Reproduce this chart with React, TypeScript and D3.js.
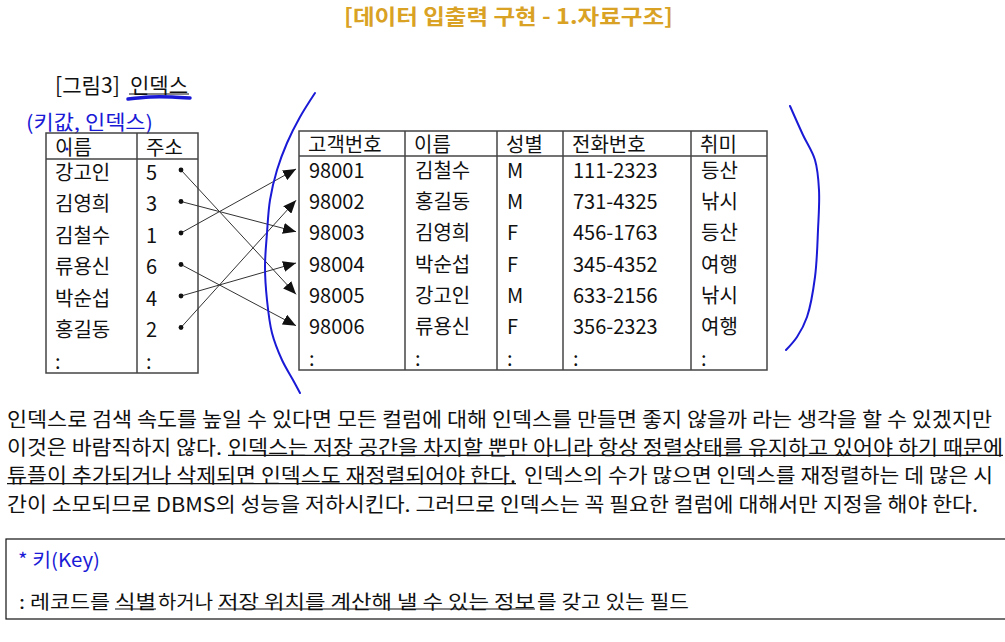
import React, { useEffect, useRef } from 'react';
import * as d3 from 'd3';

// Slide text
const titleText = "[데이터 입출력 구현 - 1.자료구조]";
const figureLabel = "[그림3]";
const figureName = "인덱스";
const indexNote = "(키값, 인덱스)";

// Index table (key value, address)
const indexHeaders = ["이름", "주소"];
const indexNames = ["강고인", "김영희", "김철수", "류용신", "박순섭", "홍길동"];
const indexAddrs = [5, 3, 1, 6, 4, 2];

// Customer table
const tableHeaders = ["고객번호", "이름", "성별", "전화번호", "취미"];
const customerIds = ["98001", "98002", "98003", "98004", "98005", "98006"];
const customerNames = ["김철수", "홍길동", "김영희", "박순섭", "강고인", "류용신"];
const genders = ["M", "M", "F", "F", "M", "F"];
const phones = ["111-2323", "731-4325", "456-1763", "345-4352", "633-2156", "356-2323"];
const hobbies = ["등산", "낚시", "등산", "여행", "낚시", "여행"];

// Body paragraph, one list of [text, underlined] per line
const paragraphLines: [string, boolean][][] = [
  [["인덱스로 검색 속도를 높일 수 있다면 모든 컬럼에 대해 인덱스를 만들면 좋지 않을까 라는 생각을 할 수 있겠지만", false]],
  [["이것은 바람직하지 않다.", false], ["인덱스는 저장 공간을 차지할 뿐만 아니라 항상 정렬상태를 유지하고 있어야 하기 때문에", true]],
  [["튜플이 추가되거나 삭제되면 인덱스도 재정렬되어야 한다.", true], ["인덱스의 수가 많으면 인덱스를 재정렬하는 데 많은 시", false]],
  [["간이 소모되므로 DBMS의 성능을 저하시킨다. 그러므로 인덱스는 꼭 필요한 컬럼에 대해서만 지정을 해야 한다.", false]],
];
const keyTitle = "* 키(Key)";
const keyLine: [string, boolean][] = [
  [": 레코드를", false], ["식별", true], ["하거나", false],
  ["저장 위치를 계산해 낼 수 있는 정보", true], ["를 갖고 있는 필드", false],
];

// Layout of the text segments (start, end) in px
const paragraphSpans = [
  [[7, 992]],
  [[7, 222], [228, 1003]],
  [[7, 516], [524, 993]],
  [[7, 978]],
];
const keySpans = [[19, 110], [115, 156], [158, 213], [218, 535], [537, 689]];

// Hand-drawn blue pen strokes
const leftBracket: [number, number][] = [[315, 93], [300, 117], [287, 143], [277, 170], [270, 200], [267, 233], [265, 267], [267, 300], [272, 333], [282, 360], [293, 380], [300, 393]];
const rightBracket: [number, number][] = [[790, 106], [803, 135], [815, 160], [819, 190], [818, 230], [815, 277], [807, 317], [797, 337], [786, 350]];
const penUnderline: [number, number][] = [[128, 99], [150, 97], [172, 97], [190, 98]];

const FONT = "'Noto Sans CJK KR', 'Noto Sans', sans-serif";
const PEN = "#1a1ad6";

const App: React.FC = () => {
  const svgRef = useRef<SVGSVGElement>(null);

  useEffect(() => {
    if (!svgRef.current) return;
    const svg = d3.select(svgRef.current);
    svg.selectAll("*").remove();

    svg.append("rect").attr("width", 1005).attr("height", 642).attr("fill", "#fff");

    // Title
    svg.append("text")
      .attr("x", 344).attr("y", 15)
      .attr("dominant-baseline", "central")
      .attr("textLength", 329).attr("lengthAdjust", "spacingAndGlyphs")
      .style("font-family", FONT).style("font-size", "21px").style("font-weight", "bold")
      .style("fill", "#d9a224")
      .text(titleText);

    // Figure caption
    svg.append("text")
      .attr("x", 55).attr("y", 84).attr("dominant-baseline", "central")
      .attr("textLength", 65).attr("lengthAdjust", "spacingAndGlyphs")
      .style("font-family", FONT).style("font-size", "21px").style("fill", "#111")
      .text(figureLabel);
    svg.append("text")
      .attr("x", 130).attr("y", 84).attr("dominant-baseline", "central")
      .attr("textLength", 58).attr("lengthAdjust", "spacingAndGlyphs")
      .style("font-family", FONT).style("font-size", "21px").style("fill", "#111")
      .text(figureName);
    svg.append("line").attr("x1", 129).attr("x2", 189).attr("y1", 94).attr("y2", 94)
      .attr("stroke", "#111").attr("stroke-width", 1);

    svg.append("text")
      .attr("x", 26).attr("y", 121).attr("dominant-baseline", "central")
      .attr("textLength", 127).attr("lengthAdjust", "spacingAndGlyphs")
      .style("font-family", FONT).style("font-size", "20px").style("fill", PEN)
      .text(indexNote);

    const cellFont = (sel: d3.Selection<SVGTextElement, any, any, any>) =>
      sel.style("font-family", FONT).style("font-size", "20px").style("fill", "#111")
        .attr("dominant-baseline", "central");

    // ---- Index table ----
    const idx = { x0: 46, xDiv: 137, x1: 198, top: 133, head: 159, bottom: 373 };
    const idxRow = d3.scaleLinear().domain([0, indexNames.length]).range([171, 360]);
    const gIdx = svg.append("g");
    gIdx.append("rect")
      .attr("x", idx.x0).attr("y", idx.top)
      .attr("width", idx.x1 - idx.x0).attr("height", idx.bottom - idx.top)
      .attr("fill", "none").attr("stroke", "#444").attr("stroke-width", 1.5);
    gIdx.append("line").attr("x1", idx.xDiv).attr("x2", idx.xDiv).attr("y1", idx.top).attr("y2", idx.bottom)
      .attr("stroke", "#444").attr("stroke-width", 1.5);
    gIdx.append("line").attr("x1", idx.x0).attr("x2", idx.x1).attr("y1", idx.head).attr("y2", idx.head)
      .attr("stroke", "#444").attr("stroke-width", 1.5);
    const idxColX = [idx.x0 + 9, idx.xDiv + 9];
    indexHeaders.forEach((h, i) => {
      gIdx.append("text").attr("x", idxColX[i]).attr("y", 146).call(cellFont).text(h);
    });
    gIdx.selectAll(".iname").data(indexNames.concat([":"])).enter().append("text")
      .attr("x", idxColX[0]).attr("y", (_, i) => idxRow(i)).call(cellFont).text(d => d);
    gIdx.selectAll(".iaddr").data(indexAddrs.map(String).concat([":"])).enter().append("text")
      .attr("x", idxColX[1]).attr("y", (_, i) => idxRow(i)).call(cellFont).text(d => d);
    // pen mark in header
    gIdx.append("circle").attr("cx", 67).attr("cy", 149).attr("r", 1.6).attr("fill", PEN);

    // ---- Customer table ----
    const colEdges = [299, 405, 497, 563, 691, 767];
    const tbl = { top: 131, head: 156, bottom: 370 };
    const row = d3.scaleLinear().domain([0, customerIds.length]).range([169, 357]);
    const gT = svg.append("g");
    gT.append("rect")
      .attr("x", colEdges[0]).attr("y", tbl.top)
      .attr("width", colEdges[5] - colEdges[0]).attr("height", tbl.bottom - tbl.top)
      .attr("fill", "none").attr("stroke", "#444").attr("stroke-width", 1.5);
    colEdges.slice(1, -1).forEach(x => {
      gT.append("line").attr("x1", x).attr("x2", x).attr("y1", tbl.top).attr("y2", tbl.bottom)
        .attr("stroke", "#444").attr("stroke-width", 1.5);
    });
    gT.append("line").attr("x1", colEdges[0]).attr("x2", colEdges[5]).attr("y1", tbl.head).attr("y2", tbl.head)
      .attr("stroke", "#444").attr("stroke-width", 1.5);
    tableHeaders.forEach((h, i) => {
      gT.append("text").attr("x", colEdges[i] + 9).attr("y", 143).call(cellFont).text(h);
    });
    const columns = [customerIds, customerNames, genders, phones, hobbies];
    columns.forEach((col, c) => {
      gT.selectAll(`.col${c}`).data(col.concat([":"])).enter().append("text")
        .attr("x", colEdges[c] + 10).attr("y", (_, i) => row(i)).call(cellFont).text(d => d);
    });

    // ---- Arrows from index to records ----
    const defs = svg.append("defs");
    defs.append("marker")
      .attr("id", "arrowHead").attr("viewBox", "0 0 13 11")
      .attr("refX", 13).attr("refY", 5.5)
      .attr("markerWidth", 13).attr("markerHeight", 11)
      .attr("markerUnits", "userSpaceOnUse").attr("orient", "auto")
      .append("path").attr("d", "M0,0 L13,5.5 L0,11 Z").attr("fill", "#111");
    const dotX = 181;
    const tipX = 296;
    const gA = svg.append("g");
    indexAddrs.forEach((addr, i) => {
      const y0 = idxRow(i) - 1;
      const y1 = row(addr - 1);
      gA.append("line")
        .attr("x1", dotX).attr("y1", y0).attr("x2", tipX).attr("y2", y1)
        .attr("stroke", "#333").attr("stroke-width", 1)
        .attr("marker-end", "url(#arrowHead)");
      gA.append("circle").attr("cx", dotX).attr("cy", y0).attr("r", 2.4).attr("fill", "#111");
    });

    // ---- Pen strokes ----
    const pen = d3.line<[number, number]>().curve(d3.curveCatmullRom.alpha(0.5));
    svg.append("path").attr("d", pen(leftBracket))
      .attr("fill", "none").attr("stroke", PEN).attr("stroke-width", 2).attr("stroke-linecap", "round");
    svg.append("path").attr("d", pen(rightBracket))
      .attr("fill", "none").attr("stroke", PEN).attr("stroke-width", 2).attr("stroke-linecap", "round");
    svg.append("path").attr("d", pen(penUnderline))
      .attr("fill", "none").attr("stroke", PEN).attr("stroke-width", 3.5).attr("stroke-linecap", "round");

    // ---- Paragraph ----
    const lineY = d3.scaleLinear().domain([0, paragraphLines.length - 1]).range([418, 503]);
    const gP = svg.append("g");
    paragraphLines.forEach((segs, li) => {
      segs.forEach(([txt, ul], si) => {
        const [x0, x1] = paragraphSpans[li][si];
        gP.append("text")
          .attr("x", x0).attr("y", lineY(li)).attr("dominant-baseline", "central")
          .attr("textLength", x1 - x0).attr("lengthAdjust", "spacingAndGlyphs")
          .style("font-family", FONT).style("font-size", "20px").style("fill", "#111")
          .text(txt);
        if (ul) {
          gP.append("line").attr("x1", x0).attr("x2", x1)
            .attr("y1", lineY(li) + 9).attr("y2", lineY(li) + 9)
            .attr("stroke", "#111").attr("stroke-width", 1.2);
        }
      });
    });

    // ---- Key box ----
    const gK = svg.append("g");
    gK.append("rect").attr("x", 6).attr("y", 539).attr("width", 1010).attr("height", 80)
      .attr("fill", "none").attr("stroke", "#111").attr("stroke-width", 1.2);
    gK.append("text")
      .attr("x", 18).attr("y", 558).attr("dominant-baseline", "central")
      .attr("textLength", 82).attr("lengthAdjust", "spacingAndGlyphs")
      .style("font-family", FONT).style("font-size", "19px").style("fill", PEN)
      .text(keyTitle);
    keyLine.forEach(([txt, ul], i) => {
      const [x0, x1] = keySpans[i];
      gK.append("text")
        .attr("x", x0).attr("y", 600).attr("dominant-baseline", "central")
        .attr("textLength", x1 - x0).attr("lengthAdjust", "spacingAndGlyphs")
        .style("font-family", FONT).style("font-size", "19px").style("fill", "#111")
        .text(txt);
      if (ul) {
        gK.append("line").attr("x1", x0).attr("x2", x1).attr("y1", 609).attr("y2", 609)
          .attr("stroke", "#111").attr("stroke-width", 1.2);
      }
    });
  }, []);

  return (
    <div style={{ position: "fixed", left: 0, top: 0, width: 1005, height: 642, background: "#fff" }}>
      <svg ref={svgRef} width={1005} height={642} style={{ display: "block" }}></svg>
    </div>
  );
};

export default App;
